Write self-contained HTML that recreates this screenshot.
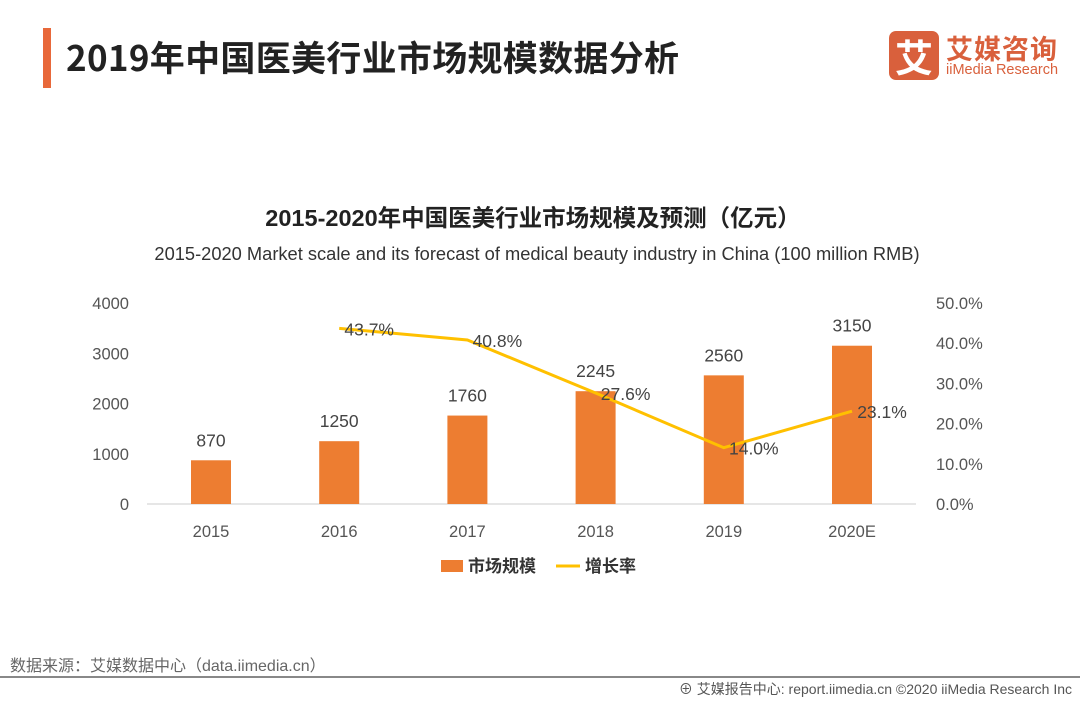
<!DOCTYPE html>
<html><head><meta charset="utf-8"><style>
body{margin:0;width:1080px;height:702px;background:#fff;font-family:"Liberation Sans","Noto Sans CJK SC",sans-serif;overflow:hidden;position:relative}
.abs{position:absolute}
</style></head><body>
<div class="abs" style="left:43px;top:28px;width:8px;height:60px;background:#e8683a"></div>
<div class="abs" style="left:66px;top:31px;font-size:35px;color:#222;font-family:'Noto Sans CJK SC',sans-serif;font-weight:bold;letter-spacing:0.3px">2019年中国医美行业市场规模数据分析</div>
<div class="abs" style="left:889px;top:31px;width:50px;height:49px;background:#d9603c;border-radius:7px;color:#fff;font-size:38px;line-height:49px;text-align:center;font-family:'Noto Sans CJK SC',sans-serif;font-weight:bold">艾</div>
<div class="abs" style="left:946px;top:28px;font-size:27px;color:#d9603c;font-family:'Noto Sans CJK SC',sans-serif;font-weight:bold;letter-spacing:1px">艾媒咨询</div>
<div class="abs" style="left:946px;top:62px;font-size:14.5px;color:#d9603c">iiMedia Research</div>
<svg class="abs" style="left:0;top:0" width="1080" height="702">
<text x="533" y="226" text-anchor="middle" font-size="23.5" font-weight="bold" fill="#222" font-family="Liberation Sans,Noto Sans CJK SC,sans-serif">2015-2020年中国医美行业市场规模及预测（亿元）</text>
<text x="537" y="260" text-anchor="middle" font-size="18.3" fill="#333">2015-2020 Market scale and its forecast of medical beauty industry in China (100 million RMB)</text>
<g id="g"></g>
<line x1="0" y1="677" x2="1080" y2="677" stroke="#888" stroke-width="2"/>
<text x="10" y="671" font-size="16" fill="#666">数据来源：艾媒数据中心（data.iimedia.cn）</text>
<text x="1072" y="694" text-anchor="end" font-size="14" fill="#555">⊕ 艾媒报告中心: report.iimedia.cn   ©2020   iiMedia Research Inc</text>
</svg>
<script>
const categories=["2015","2016","2017","2018","2019","2020E"];
const scale=[870,1250,1760,2245,2560,3150];
const growth=[null,43.7,40.8,27.6,14.0,23.1];
const leftTicks=[0,1000,2000,3000,4000];
const rightTicks=[0,10,20,30,40,50];
const NS="http://www.w3.org/2000/svg";
const g=document.getElementById('g');
const x=i=>211+i*128.2;
const yL=v=>504-v*201/4000;
const yR=v=>504-v*201/50;
function mk(t,a,txt){const e=document.createElementNS(NS,t);for(const k in a)e.setAttribute(k,a[k]);if(txt!=null)e.textContent=txt;g.appendChild(e);return e;}
let e=mk('line',{x1:147,y1:504,x2:916,y2:504,stroke:'#ccc'});


leftTicks.forEach(v=>{const t=mk('text',{x:129,y:yL(v)+6,'text-anchor':'end','font-size':16.5,fill:'#555'},v);

});
rightTicks.forEach(v=>{const t=mk('text',{x:936,y:yR(v)+6,'font-size':16.5,fill:'#555'},v.toFixed(1)+'%');

});
categories.forEach((c,i)=>{
const t=mk('text',{x:x(i),y:537,'text-anchor':'middle','font-size':16.5,fill:'#555'},c);


const b=mk('rect',{x:x(i)-20,y:yL(scale[i]),width:40,height:504-yL(scale[i]),fill:'#ed7d31'});


const l=mk('text',{x:x(i),y:yL(scale[i])-14,'text-anchor':'middle','font-size':17.5,fill:'#444'},scale[i]);


});
let pts=[];growth.forEach((v,i)=>{if(v!=null)pts.push(x(i)+','+yR(v));});
const pl=mk('polyline',{points:pts.join(' '),fill:'none',stroke:'#ffc000','stroke-width':3});


growth.forEach((v,i)=>{if(v==null)return;
const t=mk('text',{x:x(i)+30,y:yR(v)+7,'text-anchor':'middle','font-size':17.5,fill:'#444'},v.toFixed(1)+'%');

});
const lb=mk('rect',{x:441,y:560,width:22,height:12,fill:'#ed7d31'});


const lt=mk('text',{x:468,y:572,'font-size':17,fill:'#333','font-weight':'bold'},'市场规模');


const ll=mk('line',{x1:556,y1:566,x2:580,y2:566,stroke:'#ffc000','stroke-width':3});


const lt2=mk('text',{x:585,y:572,'font-size':17,fill:'#333','font-weight':'bold'},'增长率');


</script>
</body></html>
